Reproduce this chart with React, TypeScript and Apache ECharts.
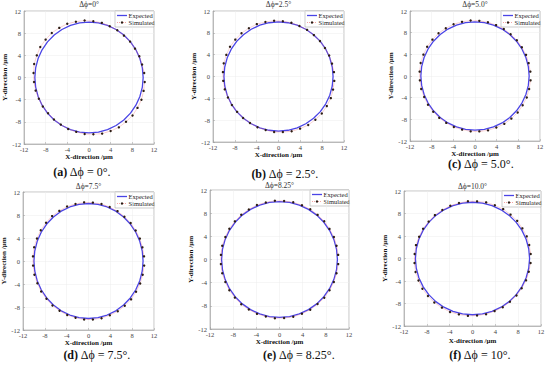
import { useEffect, useRef } from 'react';
import * as echarts from 'echarts';

// Angles (deg) of the simulated sample points and of the expected trajectory
const simAngles = [4.5, 13.5, 22.5, 31.5, 40.5, 49.5, 58.5, 67.5, 76.5, 85.5, 94.5, 103.5, 112.5, 121.5, 130.5, 139.5, 148.5, 157.5, 166.5, 175.5, 184.5, 193.5, 202.5, 211.5, 220.5, 229.5, 238.5, 247.5, 256.5, 265.5, 274.5, 283.5, 292.5, 301.5, 310.5, 319.5, 328.5, 337.5, 346.5, 355.5];
const expectedAngles = [0, 10, 20, 30, 40, 50, 60, 70, 80, 90, 100, 110, 120, 130, 140, 150, 160, 170, 180, 190, 200, 210, 220, 230, 240, 250, 260, 270, 280, 290, 300, 310, 320, 330, 340, 350, 360];
const expectedRadius = 10;

// Simulated radii (um)
const simRadiiA = [10.22, 10.08, 10.06, 9.96, 9.97, 9.93, 10.0, 10.02, 10.14, 10.18, 10.33, 10.36, 10.49, 10.5, 10.58, 10.53, 10.55, 10.43, 10.41, 10.27, 10.18, 10.13, 10.02, 10.0, 9.94, 9.96, 9.97, 10.06, 10.09, 10.22, 10.28, 10.41, 10.44, 10.55, 10.52, 10.57, 10.5, 10.48, 10.36, 10.32];
const simRadiiB = [10.19, 10.08, 10.05, 9.98, 9.99, 9.97, 10.02, 10.03, 10.12, 10.15, 10.25, 10.28, 10.38, 10.38, 10.44, 10.4, 10.42, 10.34, 10.32, 10.21, 10.15, 10.12, 10.03, 10.01, 9.97, 9.99, 9.99, 10.06, 10.08, 10.19, 10.21, 10.32, 10.34, 10.42, 10.4, 10.43, 10.38, 10.37, 10.28, 10.25];
const simRadiiC = [10.25, 10.18, 10.2, 10.15, 10.16, 10.13, 10.18, 10.17, 10.22, 10.21, 10.29, 10.28, 10.34, 10.32, 10.37, 10.33, 10.36, 10.3, 10.32, 10.25, 10.21, 10.22, 10.16, 10.18, 10.14, 10.16, 10.15, 10.2, 10.18, 10.25, 10.26, 10.32, 10.3, 10.36, 10.34, 10.36, 10.32, 10.34, 10.28, 10.29];
const simRadiiD = [10.2, 10.16, 10.18, 10.14, 10.16, 10.13, 10.17, 10.15, 10.2, 10.18, 10.23, 10.2, 10.26, 10.22, 10.27, 10.23, 10.26, 10.22, 10.24, 10.2, 10.18, 10.19, 10.14, 10.17, 10.13, 10.16, 10.15, 10.18, 10.16, 10.21, 10.2, 10.24, 10.21, 10.26, 10.23, 10.27, 10.22, 10.25, 10.21, 10.23];
const simRadiiE = [10.16, 10.13, 10.17, 10.12, 10.16, 10.13, 10.17, 10.14, 10.16, 10.12, 10.17, 10.13, 10.18, 10.14, 10.17, 10.13, 10.16, 10.12, 10.17, 10.14, 10.15, 10.17, 10.12, 10.16, 10.13, 10.17, 10.14, 10.16, 10.12, 10.17, 10.14, 10.18, 10.13, 10.16, 10.12, 10.17, 10.14, 10.16, 10.13, 10.17];
const simRadiiF = [10.23, 10.22, 10.28, 10.25, 10.3, 10.26, 10.29, 10.24, 10.26, 10.19, 10.21, 10.14, 10.16, 10.11, 10.14, 10.1, 10.15, 10.12, 10.18, 10.17, 10.19, 10.26, 10.24, 10.29, 10.26, 10.3, 10.25, 10.28, 10.22, 10.23, 10.17, 10.18, 10.12, 10.15, 10.1, 10.14, 10.11, 10.16, 10.14, 10.21];

const panelRadii = [simRadiiA, simRadiiB, simRadiiC, simRadiiD, simRadiiE, simRadiiF];
const panelTitles = ['Δϕ=0°', 'Δϕ=2.5°', 'Δϕ=5.0°', 'Δϕ=7.5°', 'Δϕ=8.25°', 'Δϕ=10.0°'];
const captionLetters = ['(a)', '(b)', '(c)', '(d)', '(e)', '(f)'];
const captionTexts = ['Δϕ = 0°.', 'Δϕ = 2.5°.', 'Δϕ = 5.0°.', 'Δϕ = 7.5°.', 'Δϕ = 8.25°.', 'Δϕ = 10°.'];
const axisMin = -12;
const axisMax = 12;
const axisStep = 4;
const seriesNames = ['Expected', 'Simulated'];

const layouts = [
  { left: 24, top: 11, w: 130, h: 133, yGap: 10.5, xGap: 7, titleY: 4, capX: 82, capY: 172 },
  { left: 213, top: 11, w: 131, h: 131, yGap: 8.5, xGap: 7, titleY: 4, capX: 285, capY: 174 },
  { left: 410, top: 11, w: 130, h: 130, yGap: 11.5, xGap: 8, titleY: 4, capX: 481, capY: 164 },
  { left: 23, top: 192, w: 131, h: 138, yGap: 13, xGap: 9.5, titleY: 186, capX: 97, capY: 355 },
  { left: 210, top: 190, w: 139, h: 139, yGap: 9.5, xGap: 9.5, titleY: 185, capX: 299, capY: 355 },
  { left: 404, top: 191, w: 137, h: 135, yGap: 12.5, xGap: 11, titleY: 186, capX: 480, capY: 355 },
];

const SERIF = '"Liberation Serif", "Times New Roman", serif';
const BLUE = '#4a44e6';
const RED = '#ee6a6a';
const DOT = '#2b1d14';
const FRAME = '#9a9a9a';

function toXY(r: number, deg: number): [number, number] {
  const a = (deg * Math.PI) / 180;
  return [r * Math.cos(a), r * Math.sin(a)];
}

export default function App() {
  const ref = useRef<HTMLDivElement>(null);
  useEffect(() => {
    if (!ref.current) return;
    const chart = echarts.init(ref.current, undefined, { renderer: 'svg' });
    const grid: any[] = [];
    const xAxis: any[] = [];
    const yAxis: any[] = [];
    const series: any[] = [];
    const graphic: any[] = [];

    layouts.forEach((L, i) => {
      grid.push({
        left: L.left, top: L.top, width: L.w, height: L.h,
        containLabel: false, outerBoundsMode: 'none',
        show: true, borderColor: FRAME, borderWidth: 0.6, backgroundColor: '#fff',
      });
      const common = {
        gridIndex: i, type: 'value', min: axisMin, max: axisMax, interval: axisStep,
        nameLocation: 'middle',
        nameTextStyle: { fontFamily: SERIF, fontWeight: 'bold', fontSize: 7, color: '#111' },
        axisLine: { show: true, onZero: false, lineStyle: { color: FRAME, width: 0.6 } },
        axisTick: { show: true, inside: true, length: 2, lineStyle: { color: FRAME, width: 0.5 } },
        splitLine: { show: true, lineStyle: { color: '#ececec', width: 0.5 } },
        axisLabel: { fontFamily: SERIF, fontSize: 6.5, color: '#444', showMinLabel: true, showMaxLabel: true },
      };
      xAxis.push({ ...common, name: 'X-direction /μm', nameGap: L.xGap, axisLabel: { ...common.axisLabel, margin: 2 } });
      yAxis.push({ ...common, name: 'Y-direction /μm', nameGap: L.yGap, axisLabel: { ...common.axisLabel, margin: 3 } });

      series.push({
        name: seriesNames[0], type: 'line', xAxisIndex: i, yAxisIndex: i,
        data: expectedAngles.map((a) => toXY(expectedRadius, a)),
        showSymbol: false, symbol: 'none', smooth: false,
        lineStyle: { color: BLUE, width: 1.3 },
        itemStyle: { color: BLUE },
        z: 3,
      });
      series.push({
        name: seriesNames[1], type: 'line', xAxisIndex: i, yAxisIndex: i,
        data: simAngles.map((a, k) => toXY(panelRadii[i][k], a)),
        symbol: 'circle', symbolSize: 2.4, showSymbol: true,
        lineStyle: { color: RED, width: 0.6, type: 'dotted' },
        itemStyle: { color: DOT },
        z: 4,
      });

      // legend box (drawn by hand so the two-colour "Simulated" key matches)
      const lw = 39;
      const lh = 16;
      const x0 = L.left + L.w - lw;
      const y0 = L.top;
      const r1 = y0 + 4.5;
      const r2 = y0 + 11.5;
      graphic.push({
        type: 'group', z: 20,
        children: [
          { type: 'rect', shape: { x: x0, y: y0, width: lw, height: lh }, style: { fill: '#fff', stroke: FRAME, lineWidth: 0.5 } },
          { type: 'line', shape: { x1: x0 + 2, y1: r1, x2: x0 + 12, y2: r1 }, style: { stroke: BLUE, lineWidth: 1.3 } },
          { type: 'text', x: x0 + 13.5, y: r1, style: { text: seriesNames[0], fontFamily: SERIF, fontSize: 6.5, fill: '#222', textAlign: 'left', textVerticalAlign: 'middle' } },
          { type: 'line', shape: { x1: x0 + 2, y1: r2, x2: x0 + 12, y2: r2 }, style: { stroke: RED, lineWidth: 0.6, lineDash: [1, 1] } },
          { type: 'circle', shape: { cx: x0 + 7, cy: r2, r: 1.2 }, style: { fill: DOT } },
          { type: 'text', x: x0 + 13.5, y: r2, style: { text: seriesNames[1], fontFamily: SERIF, fontSize: 6.5, fill: '#222', textAlign: 'left', textVerticalAlign: 'middle' } },
        ],
      });

      graphic.push({
        type: 'text', x: L.left + L.w / 2, y: L.titleY,
        style: { text: panelTitles[i], fontFamily: SERIF, fontSize: 7.5, fill: '#333', textAlign: 'center', textVerticalAlign: 'middle' },
      });
      graphic.push({
        type: 'text', x: L.capX, y: L.capY,
        style: {
          text: `{b|${captionLetters[i]}} ${captionTexts[i]}`,
          fontFamily: SERIF, fontSize: 12, fill: '#111', textAlign: 'center', textVerticalAlign: 'middle',
          rich: { b: { fontFamily: SERIF, fontSize: 12, fontWeight: 'bold', fill: '#111' } },
        },
      });
    });

    chart.setOption({
      animation: false,
      backgroundColor: '#fff',
      grid, xAxis, yAxis, series, graphic,
    });
    return () => chart.dispose();
  }, []);
  return <div ref={ref} style={{ position: 'fixed', left: 0, top: 0, width: 550, height: 365 }} />;
}
